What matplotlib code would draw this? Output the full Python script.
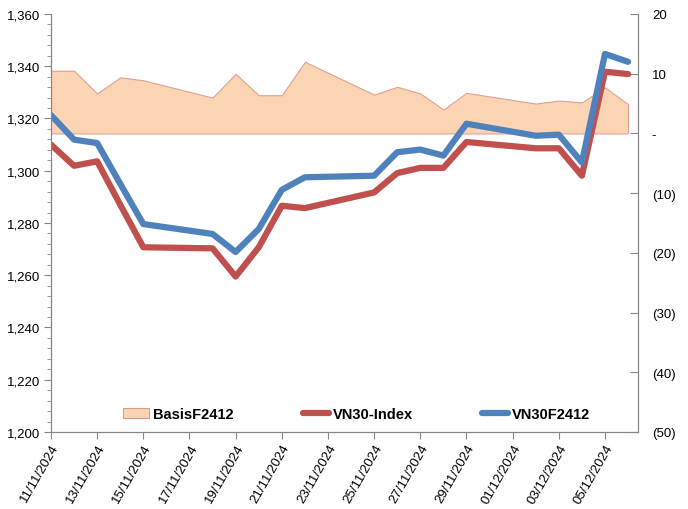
import pandas as pd
import matplotlib
matplotlib.use("Agg")
import matplotlib.pyplot as plt
import matplotlib.dates as mdates
from matplotlib.ticker import FuncFormatter, MultipleLocator

plt.rcParams['font.family'] = ['Liberation Sans', 'DejaVu Sans']

# trading days
dates = pd.to_datetime([
    '2024-11-11', '2024-11-12', '2024-11-13', '2024-11-14', '2024-11-15',
    '2024-11-18', '2024-11-19', '2024-11-20', '2024-11-21', '2024-11-22',
    '2024-11-25', '2024-11-26', '2024-11-27', '2024-11-28', '2024-11-29',
    '2024-12-02', '2024-12-03', '2024-12-04', '2024-12-05', '2024-12-06'])

vn30f2412 = [1321.3, 1311.9, 1310.6, 1295.0, 1279.6, 1275.8, 1268.9, 1277.7, 1292.7, 1297.5,
             1298.1, 1307.1, 1308.1, 1305.8, 1318.0, 1313.4, 1313.8, 1303.2, 1344.7, 1341.7]
vn30_index = [1310.0, 1301.9, 1303.6, 1287.0, 1270.7, 1270.3, 1259.5, 1270.7, 1286.6, 1285.7,
              1291.7, 1299.1, 1301.1, 1301.1, 1311.0, 1308.6, 1308.6, 1298.1, 1337.9, 1337.0]
basis = [10.5, 10.5, 6.7, 9.4, 8.9, 6.0, 10.0, 6.4, 6.4, 12.0,
         6.5, 7.8, 6.7, 4.0, 6.8, 5.0, 5.5, 5.2, 7.7, 4.9]

tick_dates = pd.date_range('2024-11-11', '2024-12-05', freq='2D')

BLUE = '#4F81BD'
RED = '#C0504D'
AREA = '#FBD4B4'
AREA_EDGE = '#E0A094'
SPINE = '#868686'

fig = plt.figure(figsize=(6.88, 5.10), dpi=100)
ax = fig.add_axes([0.0741, 0.151, 0.8532, 0.8196])
ax2 = ax.twinx()

# area (right axis) behind the lines (left axis)
ax.set_zorder(ax2.get_zorder() + 1)
ax.patch.set_visible(False)

area = ax2.fill_between(dates, 0, basis, facecolor=AREA, edgecolor=AREA_EDGE,
                        linewidth=0.8, label='BasisF2412')
l1, = ax.plot(dates, vn30_index, color=RED, lw=4.5, solid_capstyle='round',
              solid_joinstyle='round', label='VN30-Index')
l2, = ax.plot(dates, vn30f2412, color=BLUE, lw=4.5, solid_capstyle='round',
              solid_joinstyle='round', label='VN30F2412')

x0 = mdates.date2num(pd.Timestamp('2024-11-11'))
ax.set_xlim(x0, x0 + 25.43)
ax.set_ylim(1200, 1360)
ax2.set_ylim(-50, 20)

ax.set_xticks(tick_dates)
ax.xaxis.set_major_formatter(mdates.DateFormatter('%d/%m/%Y'))
for lab in ax.get_xticklabels():
    lab.set_rotation(60)
    lab.set_ha('right')
    lab.set_va('top')
    lab.set_rotation_mode('anchor')

ax.yaxis.set_major_locator(MultipleLocator(20))
ax.yaxis.set_minor_locator(MultipleLocator(4))
ax.yaxis.set_major_formatter(FuncFormatter(lambda v, p: f'{v:,.0f}'))
ax2.yaxis.set_major_locator(MultipleLocator(10))


def acct(v, p):
    if abs(v) < 1e-9:
        return '-'
    if v < 0:
        return f'({abs(v):.0f})'
    return f'{v:.0f}'


ax2.yaxis.set_major_formatter(FuncFormatter(acct))

for a in (ax, ax2):
    a.spines['top'].set_visible(False)
    for s in ('left', 'right', 'bottom'):
        a.spines[s].set_color(SPINE)

ax.tick_params(axis='x', direction='out', length=5, color=SPINE, labelsize=9.5, pad=2)
ax.tick_params(axis='y', which='major', direction='out', length=5, color=SPINE, labelsize=9.5, pad=3)
ax.tick_params(axis='y', which='minor', direction='out', length=3, color=SPINE)
ax2.tick_params(axis='y', direction='in', length=6, color=SPINE, labelsize=9.5, pad=10)
ax2.tick_params(axis='x', bottom=False, labelbottom=False)

leg = ax.legend([area, l1, l2], ['BasisF2412', 'VN30-Index', 'VN30F2412'],
                loc='center left', bbox_to_anchor=(0.113, 0.042), ncol=3, frameon=False,
                prop={'weight': 'bold', 'size': 10.5}, handlelength=1.8,
                handletextpad=0.25, columnspacing=4.75, borderaxespad=0)
leg.legend_handles[0].set_edgecolor('#D99694')

fig.savefig('out.png', dpi=100)
